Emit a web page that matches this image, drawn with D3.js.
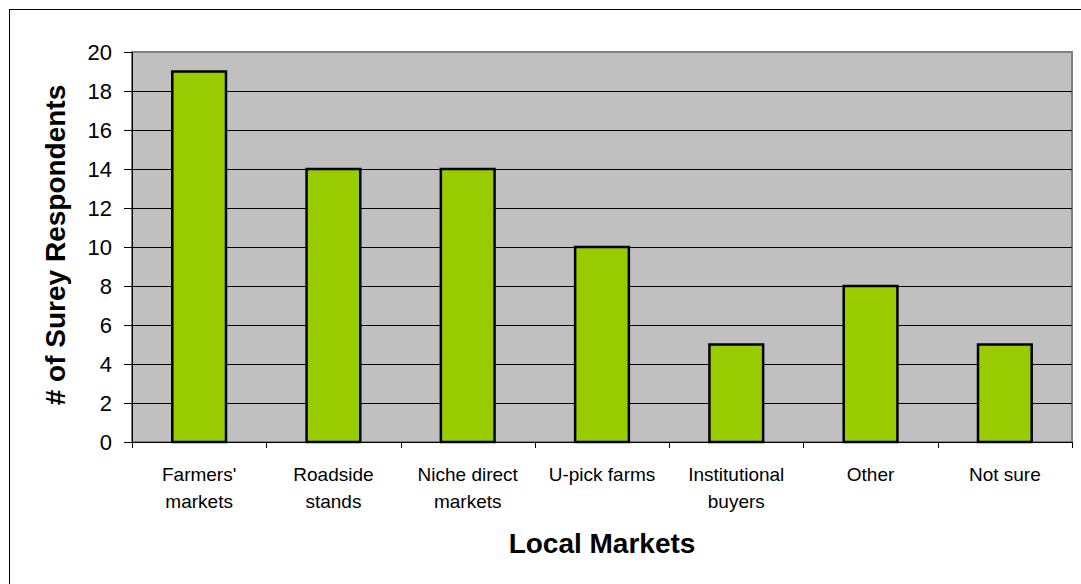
<!DOCTYPE html>
<html>
<head>
<meta charset="utf-8">
<script src="https://cdn.jsdelivr.net/npm/d3@7"></script>
<style>
  body { margin: 0; background: #fff; }
  text { font-family: Arial, "Liberation Sans", sans-serif; fill: #000; }
  .tick-label { font-size: 22px; }
  .cat-label { font-size: 19px; }
  .axis-title { font-size: 28px; font-weight: bold; }
</style>
</head>
<body>
<div id="chart"></div>
<script>
// 1. Data

const categories = [
  ["Farmers'", "markets"],
  ["Roadside", "stands"],
  ["Niche direct", "markets"],
  ["U-pick farms"],
  ["Institutional", "buyers"],
  ["Other"],
  ["Not sure"],
]
const respondents = [19, 14, 14, 10, 5, 8, 5]
const yTicks = [0, 2, 4, 6, 8, 10, 12, 14, 16, 18, 20]

const xTitle = "Local Markets"
const yTitle = "# of Surey Respondents"

// 2. Dimensions

const dimensions = {
  width: 1081,
  height: 584,
  margin: { top: 52, right: 9, bottom: 142, left: 132 },
}
dimensions.boundedWidth = dimensions.width
  - dimensions.margin.left
  - dimensions.margin.right
dimensions.boundedHeight = dimensions.height
  - dimensions.margin.top
  - dimensions.margin.bottom

// 3. Canvas

const svg = d3.select("#chart")
  .append("svg")
    .attr("width", dimensions.width)
    .attr("height", dimensions.height)

// outer chart border (runs off the right and bottom edges)
svg.append("rect")
    .attr("x", 9.5)
    .attr("y", 9.5)
    .attr("width", dimensions.width)
    .attr("height", dimensions.height)
    .attr("fill", "none")
    .attr("stroke", "#000")

const bounds = svg.append("g")
    .attr("transform", `translate(${dimensions.margin.left},${dimensions.margin.top})`)

// 4. Scales

const xScale = d3.scaleBand()
    .domain(d3.range(categories.length))
    .range([0, dimensions.boundedWidth])

const yScale = d3.scaleLinear()
    .domain([0, 20])
    .range([dimensions.boundedHeight, 0])

const barWidth = xScale.bandwidth() * 0.4

// 5. Plot area + gridlines

bounds.append("rect")
    .attr("width", dimensions.boundedWidth)
    .attr("height", dimensions.boundedHeight)
    .attr("fill", "#c0c0c0")
    .attr("stroke", "#808080")
    .attr("stroke-width", 2)

bounds.selectAll(".grid")
  .data(yTicks.filter(d => d > 0 && d < 20))
  .enter().append("line")
    .attr("class", "grid")
    .attr("x1", 0)
    .attr("x2", dimensions.boundedWidth)
    .attr("y1", d => Math.round(yScale(d)) + 0.5)
    .attr("y2", d => Math.round(yScale(d)) + 0.5)
    .attr("stroke", "#000")

// 6. Bars

bounds.selectAll(".bar")
  .data(respondents)
  .enter().append("rect")
    .attr("class", "bar")
    .attr("x", (d, i) => xScale(i) + (xScale.bandwidth() - barWidth) / 2)
    .attr("y", d => yScale(d))
    .attr("width", barWidth)
    .attr("height", d => yScale(0) - yScale(d))
    .attr("fill", "#99cc00")
    .attr("stroke", "#000")
    .attr("stroke-width", 2.5)

// 7. Axes

const yAxis = bounds.append("g")
yAxis.append("line")
    .attr("x1", 0.5).attr("x2", 0.5)
    .attr("y1", 0).attr("y2", dimensions.boundedHeight)
    .attr("stroke", "#000")
yAxis.selectAll(".ytick")
  .data(yTicks)
  .enter().append("line")
    .attr("x1", -8).attr("x2", 0)
    .attr("y1", d => Math.round(yScale(d)) + 0.5)
    .attr("y2", d => Math.round(yScale(d)) + 0.5)
    .attr("stroke", "#000")
yAxis.selectAll(".tick-label")
  .data(yTicks)
  .enter().append("text")
    .attr("class", "tick-label")
    .attr("x", -20)
    .attr("y", d => yScale(d))
    .attr("dy", "0.36em")
    .attr("text-anchor", "end")
    .text(d => d)

const xAxis = bounds.append("g")
    .attr("transform", `translate(0,${dimensions.boundedHeight})`)
xAxis.append("line")
    .attr("x1", 0).attr("x2", dimensions.boundedWidth)
    .attr("y1", 0.5).attr("y2", 0.5)
    .attr("stroke", "#000")
xAxis.selectAll(".xtick")
  .data(d3.range(categories.length + 1))
  .enter().append("line")
    .attr("x1", i => Math.round(i * xScale.step()) + 0.5)
    .attr("x2", i => Math.round(i * xScale.step()) + 0.5)
    .attr("y1", 0).attr("y2", 6)
    .attr("stroke", "#000")

const catLabels = xAxis.selectAll(".cat-label")
  .data(categories)
  .enter().append("text")
    .attr("class", "cat-label")
    .attr("text-anchor", "middle")
    .attr("transform", (d, i) => `translate(${xScale(i) + xScale.bandwidth() / 2},39)`)
catLabels.selectAll("tspan")
  .data(d => d)
  .enter().append("tspan")
    .attr("x", 0)
    .attr("y", (d, i) => i * 27)
    .text(d => d)

// 8. Titles

bounds.append("text")
    .attr("class", "axis-title")
    .attr("x", dimensions.boundedWidth / 2)
    .attr("y", dimensions.boundedHeight + 111)
    .attr("text-anchor", "middle")
    .text(xTitle)

bounds.append("text")
    .attr("class", "axis-title")
    .attr("transform", `translate(${-67},${dimensions.boundedHeight / 2 - 2}) rotate(-90)`)
    .attr("text-anchor", "middle")
    .text(yTitle)
</script>
</body>
</html>
